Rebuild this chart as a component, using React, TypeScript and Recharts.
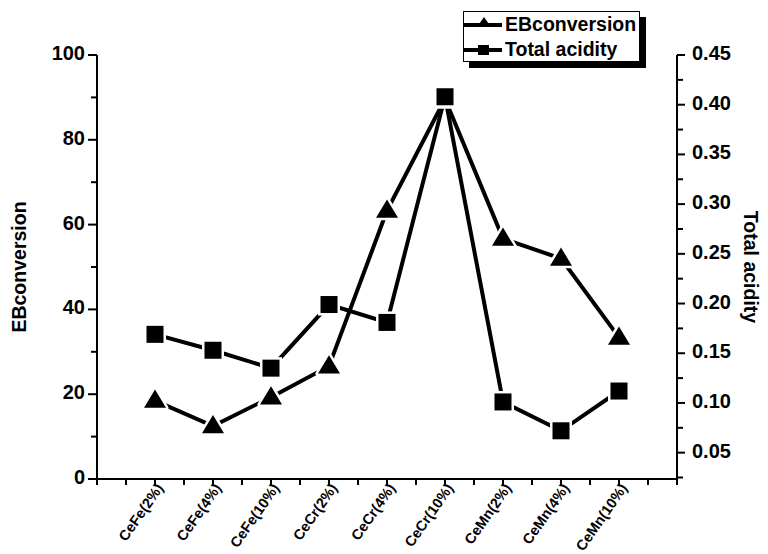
import { LineChart, Line, XAxis, YAxis } from 'recharts'

const categories = [
  'CeFe(2%)',
  'CeFe(4%)',
  'CeFe(10%)',
  'CeCr(2%)',
  'CeCr(4%)',
  'CeCr(10%)',
  'CeMn(2%)',
  'CeMn(4%)',
  'CeMn(10%)',
]
const ebConversion = [18.5, 12.5, 19.3, 26.6, 63.3, 89.6, 56.7, 52, 33.4]
const totalAcidity = [0.169, 0.153, 0.135, 0.199, 0.181, 0.408, 0.101, 0.072, 0.112]

const xTicks = [0, 0.5, 1, 1.5, 2, 2.5, 3, 3.5, 4, 4.5, 5, 5.5, 6, 6.5, 7, 7.5, 8, 8.5, 9, 9.5, 10]
const leftTicks = [0, 10, 20, 30, 40, 50, 60, 70, 80, 90, 100]
const rightTicks = [0.025, 0.05, 0.075, 0.1, 0.125, 0.15, 0.175, 0.2, 0.225, 0.25, 0.275, 0.3, 0.325, 0.35, 0.375, 0.4, 0.425, 0.45]

const data = categories.map((name, i) => ({
  pos: i + 1,
  name,
  eb: ebConversion[i],
  acid: totalAcidity[i],
}))

const FONT = '"Liberation Sans", Arial, sans-serif'

const Triangle = ({ cx, cy, size = 22 }: any) => (
  <polygon
    points={`${cx},${cy - size * 0.5} ${cx - size / 2},${cy + size * 0.33} ${cx + size / 2},${cy + size * 0.33}`}
    fill="#000"
    stroke="#fff"
    strokeWidth={5}
    strokeLinejoin="round"
    paintOrder="stroke"
  />
)

const Square = ({ cx, cy, size = 17 }: any) => (
  <rect
    x={cx - size / 2}
    y={cy - size / 2}
    width={size}
    height={size}
    fill="#000"
    stroke="#fff"
    strokeWidth={5}
    paintOrder="stroke"
  />
)

function XTick({ x, y, payload }: any) {
  const v = payload.value
  const isCat = Number.isInteger(v) && v >= 1 && v <= 9
  return (
    <g>
      <line x1={x} y1={y} x2={x} y2={y + 6} stroke="#000" strokeWidth={2} />
      {isCat && (
        <text
          x={x + 9}
          y={y + 9}
          textAnchor="end"
          fontSize={14.5}
          fontWeight="bold"
          fontFamily={FONT}
          transform={`rotate(-55 ${x + 9} ${y + 9})`}
        >
          {categories[v - 1]}
        </text>
      )}
    </g>
  )
}

function LeftTick({ x, y, payload }: any) {
  const v = payload.value
  const major = v % 20 === 0
  return (
    <g>
      <line x1={x - (major ? 9 : 6)} y1={y} x2={x} y2={y} stroke="#000" strokeWidth={2} />
      {major && (
        <text x={x - 12} y={y + 5} textAnchor="end" fontSize={20} fontWeight="bold" fontFamily={FONT}>
          {v}
        </text>
      )}
    </g>
  )
}

function RightTick({ x, y, payload }: any) {
  const v = payload.value
  const major = Math.round(v * 1000) % 50 === 0
  return (
    <g>
      <line x1={x} y1={y} x2={x + (major ? 8 : 6)} y2={y} stroke="#000" strokeWidth={2} />
      {major && (
        <text x={x + 15} y={y + 5} textAnchor="start" fontSize={20} fontWeight="bold" fontFamily={FONT}>
          {v.toFixed(2)}
        </text>
      )}
    </g>
  )
}

function LegendBox() {
  const rows = [
    { label: 'EBconversion', shape: 'tri' },
    { label: 'Total acidity', shape: 'sq' },
  ]
  return (
    <div
      style={{
        position: 'absolute',
        left: 463,
        top: 11,
        width: 175,
        height: 49,
        border: '1px solid #000',
        background: '#fff',
        boxShadow: '6px 6px 0 #000',
        fontFamily: FONT,
        fontWeight: 'bold',
        fontSize: 19.5,
        boxSizing: 'content-box',
        overflow: 'hidden',
        whiteSpace: 'nowrap',
      }}
    >
      {rows.map((r) => (
        <div key={r.label} style={{ display: 'flex', alignItems: 'center', height: 24.5 }}>
          <svg width={40} height={20} style={{ marginLeft: 0, flex: 'none' }}>
            <line x1={0} y1={11} x2={38} y2={11} stroke="#000" strokeWidth={4} />
            {r.shape === 'tri' ? (
              <polygon points="20,3 13,13 27,13" fill="#000" />
            ) : (
              <rect x={14} y={6} width={11} height={10} fill="#000" />
            )}
          </svg>
          <span style={{ marginLeft: 1, lineHeight: '20px' }}>{r.label}</span>
        </div>
      ))}
    </div>
  )
}

export default function App() {
  return (
    <div style={{ position: 'absolute', left: 0, top: 0, width: 768, height: 554, background: '#fff' }}>
      <LineChart width={768} height={554} data={data} margin={{ top: 55, right: 0, left: 0, bottom: 0 }}>
        <XAxis
          dataKey="pos"
          type="number"
          domain={[0, 10]}
          ticks={xTicks}
          interval={0}
          height={75}
          tickSize={0}
          tickMargin={0}
          tickLine={false}
          axisLine={{ stroke: '#000', strokeWidth: 2 }}
          tick={<XTick />}
        />
        <YAxis
          yAxisId="left"
          orientation="left"
          domain={[0, 100]}
          ticks={leftTicks}
          interval={0}
          width={97}
          tickSize={0}
          tickMargin={0}
          tickLine={false}
          axisLine={{ stroke: '#000', strokeWidth: 2 }}
          tick={<LeftTick />}
          label={{
            content: () => (
              <text
                x={26}
                y={267}
                textAnchor="middle"
                fontSize={19.5}
                fontWeight="bold"
                fontFamily={FONT}
                transform="rotate(-90 26 267)"
              >
                EBconversion
              </text>
            ),
          }}
        />
        <YAxis
          yAxisId="right"
          orientation="right"
          domain={[0.0235, 0.45]}
          ticks={rightTicks}
          interval={0}
          width={91}
          tickSize={0}
          tickMargin={0}
          tickLine={false}
          allowDataOverflow
          axisLine={{ stroke: '#000', strokeWidth: 2 }}
          tick={<RightTick />}
          label={{
            content: () => (
              <text
                x={744}
                y={267}
                textAnchor="middle"
                fontSize={19.5}
                fontWeight="bold"
                fontFamily={FONT}
                transform="rotate(90 744 267)"
              >
                Total acidity
              </text>
            ),
          }}
        />
        <Line
          yAxisId="left"
          dataKey="eb"
          name="EBconversion"
          stroke="#000"
          strokeWidth={4}
          isAnimationActive={false}
          dot={(p: any) => <Triangle key={`t-${p.index}`} cx={p.cx} cy={p.cy} />}
        />
        <Line
          yAxisId="right"
          dataKey="acid"
          name="Total acidity"
          stroke="#000"
          strokeWidth={4}
          isAnimationActive={false}
          dot={(p: any) => <Square key={`s-${p.index}`} cx={p.cx} cy={p.cy} />}
        />
      </LineChart>
      <LegendBox />
    </div>
  )
}
